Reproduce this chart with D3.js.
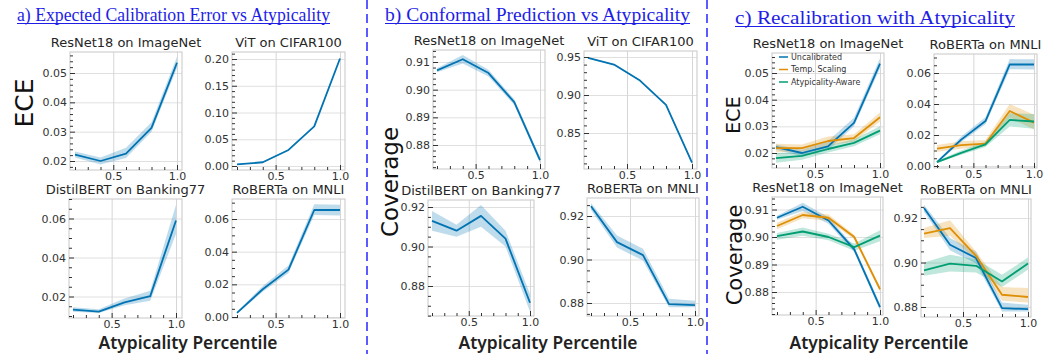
<!DOCTYPE html>
<html>
<head>
<meta charset="utf-8">
<script src="https://cdn.jsdelivr.net/npm/d3@7"></script>
<style>
  body { margin: 0; background: #fff; }
  svg { display: block; }
</style>
</head>
<body>
<svg id="fig" width="1044" height="354"></svg>
<script>
// atypicality percentile bins
const xs = [0.2, 0.4, 0.6, 0.8, 1.0];
const xMajor = [0.5, 1.0];
const xMinor = [0.2, 0.3, 0.4, 0.6, 0.7, 0.8, 0.9];

// ECE, uncalibrated
const eceResnetMid = [0.0222, 0.0200, 0.0225, 0.0313, 0.0535];
const eceResnetLo  = [0.0212, 0.0188, 0.0210, 0.0300, 0.0518];
const eceResnetHi  = [0.0232, 0.0212, 0.0245, 0.0332, 0.0555];

const eceVitMid = [0.0030, 0.0070, 0.0300, 0.0740, 0.2010];
const eceVitLo  = [0.0022, 0.0062, 0.0292, 0.0732, 0.2000];
const eceVitHi  = [0.0038, 0.0078, 0.0308, 0.0748, 0.2020];

const eceDistilMid = [0.0133, 0.0122, 0.0170, 0.0202, 0.0590];
const eceDistilLo  = [0.0122, 0.0115, 0.0155, 0.0178, 0.0520];
const eceDistilHi  = [0.0145, 0.0135, 0.0190, 0.0230, 0.0670];

const eceRobertaMid = [0.0025, 0.0170, 0.0290, 0.0655, 0.0655];
const eceRobertaLo  = [0.0020, 0.0155, 0.0270, 0.0625, 0.0622];
const eceRobertaHi  = [0.0030, 0.0190, 0.0315, 0.0690, 0.0688];

// coverage, uncalibrated
const covResnetMid = [0.9070, 0.9110, 0.9060, 0.8955, 0.8745];
const covResnetLo  = [0.9063, 0.9095, 0.9048, 0.8945, 0.8735];
const covResnetHi  = [0.9077, 0.9125, 0.9072, 0.8965, 0.8757];

const covVitMid = [0.9490, 0.9400, 0.9190, 0.8870, 0.8110];
const covVitLo  = [0.9482, 0.9392, 0.9182, 0.8862, 0.8100];
const covVitHi  = [0.9498, 0.9408, 0.9198, 0.8878, 0.8120];

const covDistilMid = [0.9130, 0.9080, 0.9155, 0.9040, 0.8715];
const covDistilLo  = [0.9080, 0.9050, 0.9100, 0.9000, 0.8670];
const covDistilHi  = [0.9180, 0.9110, 0.9210, 0.9080, 0.8760];

const covRobertaMid = [0.9245, 0.9080, 0.9020, 0.8795, 0.8790];
const covRobertaLo  = [0.9228, 0.9055, 0.8995, 0.8780, 0.8780];
const covRobertaHi  = [0.9260, 0.9110, 0.9050, 0.8820, 0.8810];

// recalibration: temperature scaling
const eceResnetTempMid = [0.0218, 0.0218, 0.0245, 0.0256, 0.0334];
const eceResnetTempLo  = [0.0203, 0.0205, 0.0228, 0.0243, 0.0318];
const eceResnetTempHi  = [0.0235, 0.0232, 0.0262, 0.0270, 0.0352];
const eceRobertaTempMid = [0.0112, 0.0135, 0.0145, 0.0355, 0.0280];
const eceRobertaTempLo  = [0.0092, 0.0112, 0.0128, 0.0312, 0.0235];
const eceRobertaTempHi  = [0.0135, 0.0160, 0.0168, 0.0400, 0.0330];
const covResnetTempMid = [0.9040, 0.9080, 0.9070, 0.9000, 0.8810];
const covResnetTempLo  = [0.9028, 0.9068, 0.9058, 0.8992, 0.8802];
const covResnetTempHi  = [0.9052, 0.9092, 0.9082, 0.9008, 0.8818];
const covRobertaTempMid = [0.9130, 0.9155, 0.9030, 0.8855, 0.8845];
const covRobertaTempLo  = [0.9110, 0.9120, 0.9010, 0.8828, 0.8820];
const covRobertaTempHi  = [0.9155, 0.9190, 0.9050, 0.8890, 0.8885];

// recalibration: atypicality-aware
const eceResnetAtypMid = [0.0181, 0.0189, 0.0215, 0.0238, 0.0284];
const eceResnetAtypLo  = [0.0163, 0.0175, 0.0202, 0.0225, 0.0270];
const eceResnetAtypHi  = [0.0200, 0.0204, 0.0228, 0.0252, 0.0300];
const eceRobertaAtypMid = [0.0025, 0.0085, 0.0140, 0.0297, 0.0287];
const eceRobertaAtypLo  = [0.0020, 0.0072, 0.0122, 0.0255, 0.0240];
const eceRobertaAtypHi  = [0.0032, 0.0100, 0.0158, 0.0340, 0.0335];
const covResnetAtypMid = [0.9003, 0.9020, 0.9000, 0.8963, 0.9005];
const covResnetAtypLo  = [0.8990, 0.9005, 0.8988, 0.8950, 0.8985];
const covResnetAtypHi  = [0.9015, 0.9035, 0.9012, 0.8976, 0.9025];
const covRobertaAtypMid = [0.8965, 0.8995, 0.8985, 0.8915, 0.8995];
const covRobertaAtypLo  = [0.8940, 0.8960, 0.8955, 0.8890, 0.8968];
const covRobertaAtypHi  = [0.9000, 0.9035, 0.9015, 0.8945, 0.9022];

const legendLabels = ['Uncalibrated', 'Temp. Scaling', 'Atypicality-Aware'];
const colors = ['#0173b2', '#de8f05', '#029e73'];

const uncal = (mid, lo, hi) => ({mid, lo, hi, color: colors[0]});
const temp = (mid, lo, hi) => ({mid, lo, hi, color: colors[1]});
const atyp = (mid, lo, hi) => ({mid, lo, hi, color: colors[2]});

// box = [left, right, top, bottom]; xpx / ypx pin two reference values to pixels
const plots = [
  {title: 'ResNet18 on ImageNet', box: [70, 182, 52, 170], xpx: [75, 177], yref: [0.02, 0.05], ypx: [161, 73], step: 0.01, ndiv: 5,
   series: [uncal(eceResnetMid, eceResnetLo, eceResnetHi)]},
  {title: 'ViT on CIFAR100', box: [232, 345, 52, 170], xpx: [237, 340], yref: [0, 0.2], ypx: [166, 59], step: 0.05, ndiv: 5,
   series: [uncal(eceVitMid, eceVitLo, eceVitHi)]},
  {title: 'DistilBERT on Banking77', box: [69, 182, 199, 318], xpx: [73, 176], yref: [0.02, 0.06], ypx: [296.5, 218.5], step: 0.02, ndiv: 4,
   series: [uncal(eceDistilMid, eceDistilLo, eceDistilHi)]},
  {title: 'RoBERTa on MNLI', box: [232, 345, 199, 318], xpx: [237, 340], yref: [0, 0.06], ypx: [317, 219], step: 0.02, ndiv: 4,
   series: [uncal(eceRobertaMid, eceRobertaLo, eceRobertaHi)]},

  {title: 'ResNet18 on ImageNet', box: [433, 545, 50, 169], xpx: [437, 540], yref: [0.88, 0.91], ypx: [145, 62], step: 0.01, ndiv: 5,
   series: [uncal(covResnetMid, covResnetLo, covResnetHi)]},
  {title: 'ViT on CIFAR100', box: [584, 697, 51, 169], xpx: [588, 692], yref: [0.85, 0.95], ypx: [133, 57], step: 0.05, ndiv: 5,
   series: [uncal(covVitMid, covVitLo, covVitHi)]},
  {title: 'DistilBERT on Banking77', box: [428, 534, 200, 316], xpx: [432, 530], yref: [0.88, 0.92], ypx: [286, 207], step: 0.02, ndiv: 4,
   series: [uncal(covDistilMid, covDistilLo, covDistilHi)]},
  {title: 'RoBERTa on MNLI', box: [587, 699, 198, 316], xpx: [591, 695], yref: [0.88, 0.92], ypx: [303, 216], step: 0.02, ndiv: 4,
   series: [uncal(covRobertaMid, covRobertaLo, covRobertaHi)]},

  {title: 'ResNet18 on ImageNet', box: [772, 884, 53, 168], xpx: [776, 880], yref: [0.02, 0.05], ypx: [153, 73], step: 0.01, ndiv: 5, legend: true,
   series: [uncal(eceResnetMid, eceResnetLo, eceResnetHi), temp(eceResnetTempMid, eceResnetTempLo, eceResnetTempHi), atyp(eceResnetAtypMid, eceResnetAtypLo, eceResnetAtypHi)]},
  {title: 'RoBERTa on MNLI', box: [934, 1037, 54, 168], xpx: [937, 1034], yref: [0, 0.06], ypx: [166, 73], step: 0.02, ndiv: 4,
   series: [uncal(eceRobertaMid, eceRobertaLo, eceRobertaHi), temp(eceRobertaTempMid, eceRobertaTempLo, eceRobertaTempHi), atyp(eceRobertaAtypMid, eceRobertaAtypLo, eceRobertaAtypHi)]},
  {title: 'ResNet18 on ImageNet', box: [772, 883, 197, 315], xpx: [777, 880], yref: [0.88, 0.91], ypx: [292, 209.5], step: 0.01, ndiv: 5,
   series: [uncal(covResnetMid, covResnetLo, covResnetHi), temp(covResnetTempMid, covResnetTempLo, covResnetTempHi), atyp(covResnetAtypMid, covResnetAtypLo, covResnetAtypHi)]},
  {title: 'RoBERTa on MNLI', box: [921, 1031, 199, 317], xpx: [924, 1028], yref: [0.88, 0.92], ypx: [307, 218], step: 0.02, ndiv: 4,
   series: [uncal(covRobertaMid, covRobertaLo, covRobertaHi), temp(covRobertaTempMid, covRobertaTempLo, covRobertaTempHi), atyp(covRobertaAtypMid, covRobertaAtypLo, covRobertaAtypHi)]}
];

const svg = d3.select('#fig');

function multiples(lo, hi, m) {
  const out = [];
  for (let k = Math.ceil(lo / m - 1e-9); k <= Math.floor(hi / m + 1e-9); k++) out.push(+(k * m).toFixed(6));
  return out;
}
const onStep = (v, s) => Math.abs(v / s - Math.round(v / s)) < 1e-6;

function styleAxis(g, color) {
  g.select('.domain').remove();
  g.selectAll('line').attr('stroke', color);
  g.selectAll('text').attr('fill', '#333').attr('font-family', 'DejaVu Sans').attr('font-size', 11);
}

plots.forEach(p => {
  const [x0, x1, y0, y1] = p.box;
  const x = d3.scaleLinear().domain([0.2, 1.0]).range(p.xpx);
  const y = d3.scaleLinear().domain(p.yref).range(p.ypx);
  const lo = y.invert(y1), hi = y.invert(y0);
  const majors = multiples(lo, hi, p.step);
  const minors = multiples(lo, hi, p.step / p.ndiv).filter(v => !onStep(v, p.step));
  const g = svg.append('g');

  // grid
  g.append('g').attr('transform', `translate(${x0},0)`)
    .call(d3.axisLeft(y).tickValues(majors).tickSize(-(x1 - x0)).tickFormat(''))
    .call(a => styleAxis(a, '#e0e0e0'));
  g.append('g').attr('transform', `translate(0,${y1})`)
    .call(d3.axisBottom(x).tickValues(xMajor).tickSize(-(y1 - y0)).tickFormat(''))
    .call(a => styleAxis(a, '#d6d6d6'));

  // bands then lines
  p.series.forEach(s => {
    const area = d3.area().x((d, i) => x(xs[i])).y0((d, i) => y(s.lo[i])).y1((d, i) => y(s.hi[i]));
    g.append('path').attr('d', area(s.mid)).attr('fill', s.color).attr('fill-opacity', 0.25);
  });
  p.series.forEach(s => {
    const line = d3.line().x((d, i) => x(xs[i])).y(d => y(d));
    g.append('path').attr('d', line(s.mid)).attr('fill', 'none')
      .attr('stroke', s.color).attr('stroke-width', 1.8).attr('stroke-linejoin', 'round');
  });

  // frame
  g.append('rect').attr('x', x0).attr('y', y0).attr('width', x1 - x0).attr('height', y1 - y0)
    .attr('fill', 'none').attr('stroke', '#cccccc').attr('stroke-width', 1.1);

  // ticks (inward)
  g.append('g').attr('transform', `translate(${x0},0)`)
    .call(d3.axisLeft(y).tickValues(majors).tickSizeInner(-5).tickSizeOuter(0).tickPadding(3).tickFormat(d3.format('.2f')))
    .call(a => styleAxis(a, '#333'));
  g.append('g').attr('transform', `translate(${x0},0)`)
    .call(d3.axisLeft(y).tickValues(minors).tickSize(-3).tickFormat(''))
    .call(a => styleAxis(a, '#333'));
  g.append('g').attr('transform', `translate(0,${y1})`)
    .call(d3.axisBottom(x).tickValues(xMajor).tickSizeInner(-5).tickSizeOuter(0).tickPadding(2).tickFormat(d3.format('.1f')))
    .call(a => styleAxis(a, '#333'));
  g.append('g').attr('transform', `translate(0,${y1})`)
    .call(d3.axisBottom(x).tickValues(xMinor).tickSize(-3).tickFormat(''))
    .call(a => styleAxis(a, '#333'));

  g.append('text').attr('x', (x0 + x1) / 2).attr('y', y0 - 5)
    .attr('text-anchor', 'middle').attr('font-family', 'DejaVu Sans').attr('font-size', 13)
    .attr('fill', '#262626').text(p.title);

  if (p.legend) {
    const lg = g.append('g').attr('transform', `translate(${x0 + 7},${y0 + 4})`);
    legendLabels.forEach((lab, i) => {
      lg.append('line').attr('x1', 0).attr('x2', 9).attr('y1', i * 12.5).attr('y2', i * 12.5)
        .attr('stroke', colors[i]).attr('stroke-width', 1.5);
      lg.append('text').attr('x', 12).attr('y', i * 12.5).attr('dy', '0.35em')
        .attr('font-family', 'DejaVu Sans').attr('font-size', 8).attr('fill', '#333').text(lab);
    });
  }
});

// panel headings
const headings = [
  {text: 'a) Expected Calibration Error vs Atypicality', x: 17, y: 21, len: 313},
  {text: 'b) Conformal Prediction vs Atypicality', x: 385, y: 21, len: 305},
  {text: 'c) Recalibration with Atypicality', x: 735, y: 24, len: 280}
];
headings.forEach(h => {
  svg.append('text').attr('x', h.x).attr('y', h.y).attr('textLength', h.len).attr('lengthAdjust', 'spacingAndGlyphs')
    .attr('font-family', 'Liberation Serif').attr('font-size', 18).attr('fill', '#1e1ee6').text(h.text);
  svg.append('line').attr('x1', h.x).attr('x2', h.x + h.len).attr('y1', h.y + 2.5).attr('y2', h.y + 2.5)
    .attr('stroke', '#1e1ee6').attr('stroke-width', 1);
});

// dashed separators
[367, 707].forEach(xv => {
  svg.append('line').attr('x1', xv).attr('x2', xv).attr('y1', 0).attr('y2', 354)
    .attr('stroke', '#4a4aff').attr('stroke-width', 1.8).attr('stroke-dasharray', '9,5');
});

// axis titles
const yTitles = [
  {text: 'ECE', x: 33, y: 103, size: 25},
  {text: 'Coverage', x: 398, y: 182, size: 23},
  {text: 'ECE', x: 740, y: 115, size: 19},
  {text: 'Coverage', x: 742, y: 255, size: 21}
];
yTitles.forEach(t => {
  svg.append('text').attr('transform', `translate(${t.x},${t.y}) rotate(-90)`)
    .attr('text-anchor', 'middle').attr('font-family', 'DejaVu Sans').attr('font-size', t.size)
    .attr('fill', '#111').text(t.text);
});
[188, 548, 879].forEach(cx => {
  svg.append('text').attr('x', cx - 89.5).attr('y', 349).attr('textLength', 179).attr('lengthAdjust', 'spacingAndGlyphs')
    .attr('font-family', 'Noto Sans').attr('font-weight', 600).attr('font-size', 17)
    .attr('fill', '#222').text('Atypicality Percentile');
});
</script>
</body>
</html>
